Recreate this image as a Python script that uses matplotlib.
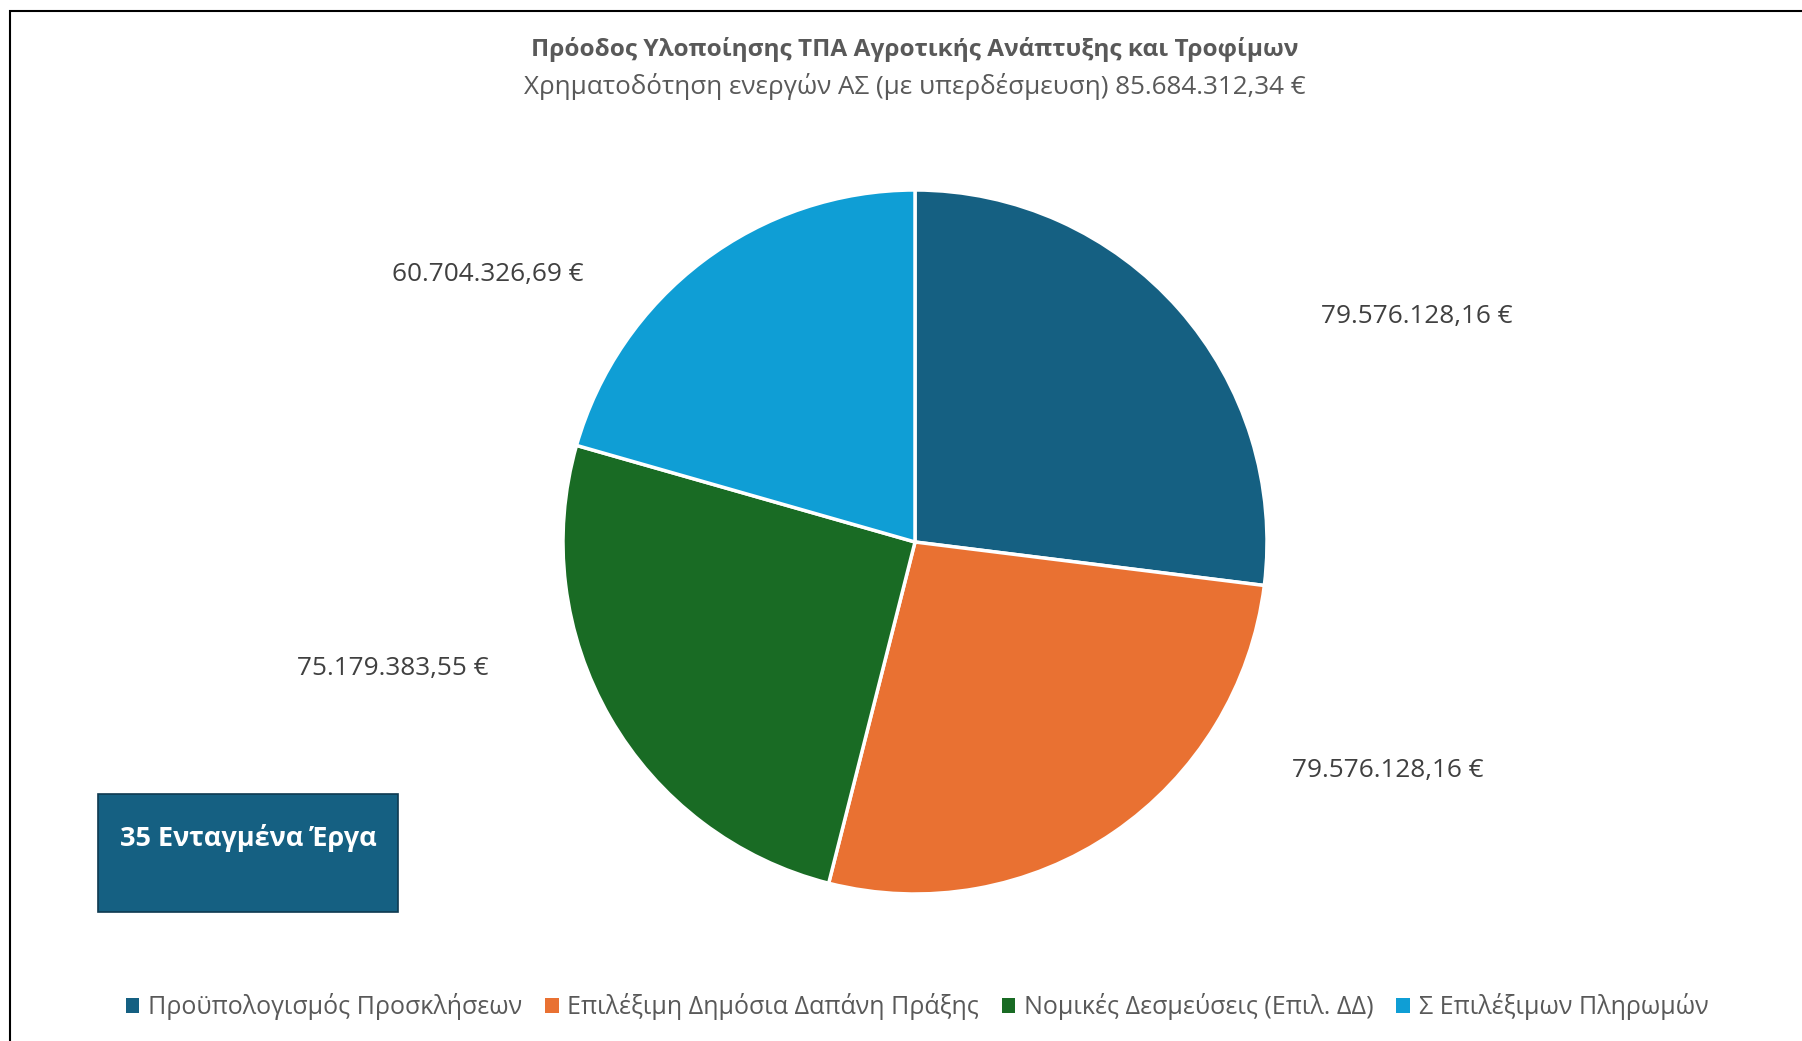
import matplotlib
matplotlib.use("Agg")
import matplotlib.pyplot as plt
from matplotlib.patches import Rectangle

categories = ["Προϋπολογισμός Προσκλήσεων", "Επιλέξιμη Δημόσια Δαπάνη Πράξης",
              "Νομικές Δεσμεύσεις (Επιλ. ΔΔ)", "Σ Επιλέξιμων Πληρωμών"]
values = [79576128.16, 79576128.16, 75179383.55, 60704326.69]
value_labels = ["79.576.128,16 €", "79.576.128,16 €", "75.179.383,55 €", "60.704.326,69 €"]
colors = ["#156082", "#E97132", "#196B24", "#0F9ED5"]
title = "Πρόοδος Υλοποίησης ΤΠΑ Αγροτικής Ανάπτυξης και Τροφίμων"
subtitle = "Χρηματοδότηση ενεργών ΑΣ (με υπερδέσμευση) 85.684.312,34 €"
box_text = "35 Ενταγμένα Έργα"

plt.rcParams['font.family'] = ['Open Sans', 'DejaVu Sans']
W, H = 1802, 1041
fig = plt.figure(figsize=(W/100, H/100), dpi=100)

# outer frame (top and left visible)
fig.add_artist(Rectangle((10/W, -0.1), 2.0, (H-11)/H + 0.1, transform=fig.transFigure,
                         fill=False, edgecolor="black", linewidth=1.5))

cx, cy, r = 915, H-542, 352
ax = fig.add_axes([(cx-r)/W, (cy-r)/H, 2*r/W, 2*r/H])
ax.pie(values, colors=colors, startangle=90, counterclock=False, radius=1,
       wedgeprops=dict(edgecolor="white", linewidth=2.5))
ax.set_xlim(-1, 1); ax.set_ylim(-1, 1)
ax.set_aspect("equal")
ax.axis("off")

fig.text(915/W, 1-49/H, title, ha="center", va="center", fontsize=17.6, fontweight="bold", color="#595959")
fig.text(915/W, 1-86/H, subtitle, ha="center", va="center", fontsize=18.7, color="#595959")

label_pos = [(1417, 317), (1388, 771), (393, 668), (488, 275)]
for (x, y), t in zip(label_pos, value_labels):
    fig.text(x/W, 1-y/H, t, ha="center", va="center", fontsize=18.8, color="#404040")

fig.add_artist(Rectangle((98/W, 1-912/H), 300/W, 118/H, transform=fig.transFigure,
                         facecolor="#156082", edgecolor="#0E3A50", linewidth=1.2))
fig.text(248/W, 1-838/H, box_text, ha="center", va="center", fontsize=19.5,
         fontweight="bold", color="white")

handles = [Rectangle((0, 0), 1, 1, facecolor=c) for c in colors]
fig.legend(handles, categories, loc="center", bbox_to_anchor=(917/W, 1-1007/H), ncol=4,
           frameon=False, fontsize=18, labelcolor="#595959", handlelength=0.55, handleheight=0.55,
           handletextpad=0.35, columnspacing=0.9)

fig.savefig("out.png", dpi=100, facecolor="white")
